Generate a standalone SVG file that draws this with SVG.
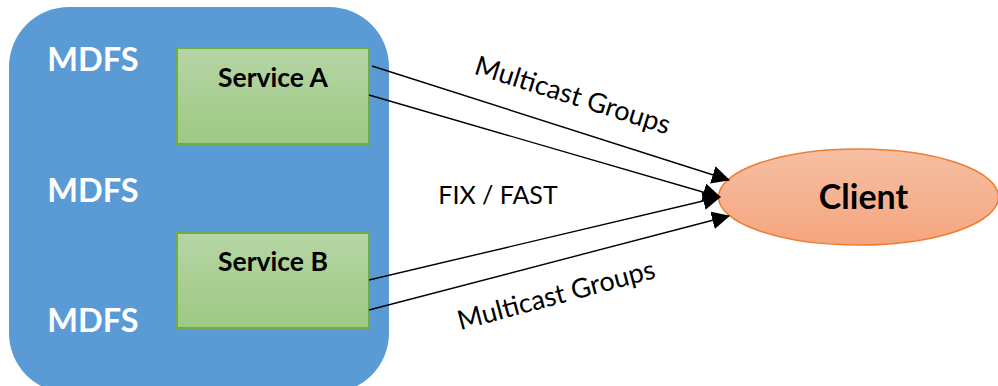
<svg xmlns="http://www.w3.org/2000/svg" width="998" height="386" viewBox="0 0 998 386">
<style>
text{font-family:Lato,"Liberation Sans",sans-serif}
.m{font-size:32.500px;font-weight:700;fill:#fff;text-anchor:middle}
.s{font-size:26.500px;font-weight:700;fill:#000;text-anchor:middle}
.l{font-size:27px;fill:#000;text-anchor:middle}
.f{font-size:25px;fill:#000;text-anchor:middle}
.g{fill:url(#gg);stroke:#70ad47;stroke-width:2}
.c line{stroke:#000;stroke-width:1.4;marker-end:url(#a)}
</style>
<defs>
<linearGradient id="gg" x1="0" y1="0" x2="0" y2="1"><stop offset="0" stop-color="#b6d5a5"/><stop offset="1" stop-color="#9dc983"/></linearGradient>
<linearGradient id="og" x1="0" y1="0" x2="0" y2="1"><stop offset="0" stop-color="#f6bfa3"/><stop offset="1" stop-color="#f5a57e"/></linearGradient>
<marker id="a" markerUnits="userSpaceOnUse" markerWidth="18" markerHeight="18" refX="17" refY="9" orient="auto"><path d="M0 0L18 9L0 18Z" fill="#000"/></marker>
</defs>
<g id="mdfs">
<rect x="9" y="7" width="380" height="386" rx="60" ry="60" fill="#5b9bd5"/>
<text class="m" x="93" y="71">MDFS</text>
<text class="m" x="93" y="202">MDFS</text>
<text class="m" x="93" y="332">MDFS</text>
</g>
<g id="service-a"><rect class="g" x="177" y="48" width="192" height="96"/><text class="s" x="273" y="87">Service A</text></g>
<g id="service-b"><rect class="g" x="177" y="233" width="192" height="95"/><text class="s" x="273" y="271">Service B</text></g>
<g id="client"><ellipse cx="858.500" cy="197" rx="140" ry="48" fill="url(#og)" stroke="#ed7d31" stroke-width="1.500"/><text x="863.500" y="209" font-size="34" font-weight="700" text-anchor="middle">Client</text></g>
<g id="connectors" class="c">
<line x1="372" y1="66" x2="729" y2="180"/>
<line x1="369" y1="95" x2="720" y2="197"/>
<line x1="369" y1="280" x2="720" y2="197"/>
<line x1="369" y1="310" x2="729" y2="216"/>
</g>
<text class="l" transform="translate(570 104) rotate(17.500)">Multicast Groups</text>
<text class="f" x="498" y="204">FIX / FAST</text>
<text class="l" transform="translate(558.500 304) rotate(-15)">Multicast Groups</text>
</svg>
